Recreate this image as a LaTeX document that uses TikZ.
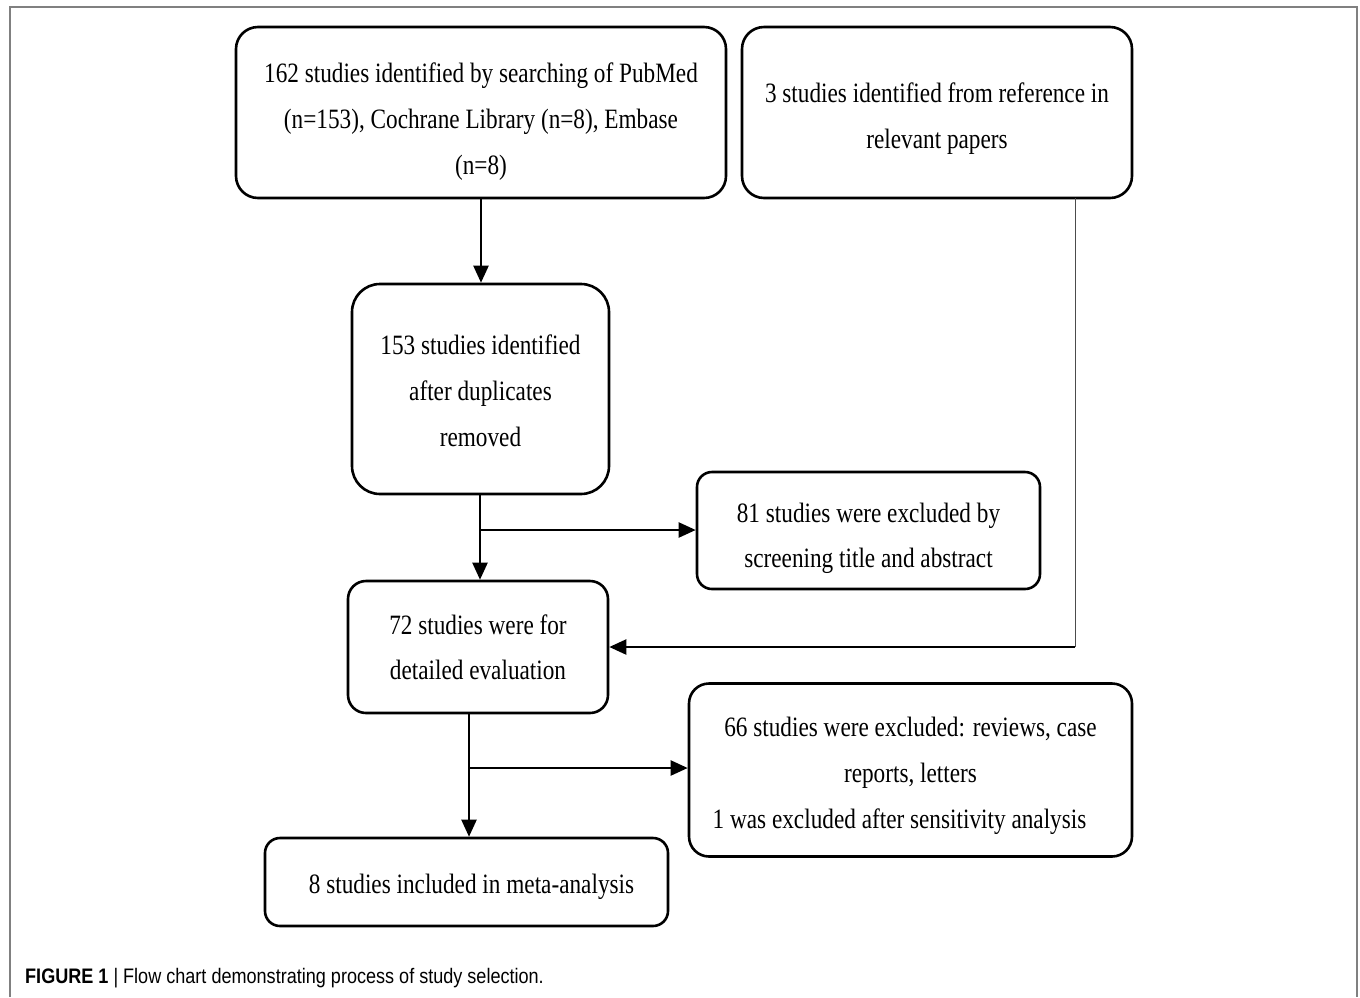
\documentclass[tikz,border=0pt]{standalone}
\usepackage{fontspec}
\setmainfont{Liberation Serif}[FakeStretch=0.83]
\newfontfamily\capfont{Liberation Sans}[FakeStretch=0.86]
\usetikzlibrary{arrows.meta}
\newcommand\shiftedtext[2]{\raisebox{-#1}[\height][\depth]{\begin{tabular}{@{}c@{}}#2\end{tabular}}}
\begin{document}
\begin{tikzpicture}[x=1pt,y=-1pt,
  box/.style={draw, line width=2.6pt, inner sep=0pt, align=center,
    font=\fontsize{28}{46}\selectfont},
  conn/.style={line width=2.2pt, -{Triangle[length=17pt,width=15pt]}}]
\useasboundingbox (0,0) rectangle (1360,997);
\draw[gray, line width=1.5pt] (10,997) -- (10,7) -- (1357,7) -- (1357,997);
\node[box, rounded corners=22pt, minimum width=490pt, minimum height=171pt] (b1) at (481,112.5)
  {\shiftedtext{7pt}{162 studies identified by searching of PubMed\\(n=153), Cochrane Library (n=8), Embase\\(n=8)}};
\node[box, rounded corners=22pt, minimum width=390pt, minimum height=171pt] (b2) at (937,112.5)
  {\shiftedtext{4pt}{3 studies identified from reference in\\relevant papers}};
\node[box, rounded corners=28pt, minimum width=257pt, minimum height=210pt] (b3) at (480.5,389)
  {\shiftedtext{2pt}{153 studies identified\\after duplicates\\removed}};
\node[box, rounded corners=15pt, minimum width=343pt, minimum height=117pt] (b4) at (868.5,530.5)
  {\shiftedtext{5pt}{81 studies were excluded by\\[-1pt]screening title and abstract}};
\node[box, rounded corners=18pt, minimum width=260pt, minimum height=132pt] (b5) at (478,647)
  {\shiftedtext{1pt}{72 studies were for\\[-1pt]detailed evaluation}};
\node[box, rounded corners=20pt, minimum width=443pt, minimum height=173pt] (b6) at (910.5,770)
  {\shiftedtext{3pt}{66 studies were excluded: reviews, case\\reports, letters\\1 was excluded after sensitivity analysis\kern22pt}};
\node[box, rounded corners=15pt, minimum width=403pt, minimum height=88pt] (b7) at (466.5,882)
  {\shiftedtext{2pt}{\kern10pt 8 studies included in meta-analysis}};
% connectors
\draw[conn] (b1.south) -- (b1.south |- b3.north);
\coordinate (s1) at (480,494);
\coordinate (k1) at (480,530);
\draw[conn] (s1) -- (s1 |- b5.north);
\draw[conn] (k1) -- (b4.west |- k1);
\coordinate (s2) at (469,713);
\coordinate (k2) at (469,768);
\draw[conn] (s2) -- (s2 |- b7.north);
\draw[conn] (k2) -- (b6.west |- k2);
\coordinate (r1) at (1075,198);
\coordinate (r2) at (1075,647);
\draw[line width=1pt, black!70] (r1) -- (r2);
\draw[conn] (r2) -- (b5.east |- r2);
% caption
\node[anchor=west, inner sep=0pt, font=\capfont\fontsize{21}{24}\selectfont] (cap) at (25,978)
  {\textbf{FIGURE 1} | Flow chart demonstrating process of study selection.};
\end{tikzpicture}
\end{document}
